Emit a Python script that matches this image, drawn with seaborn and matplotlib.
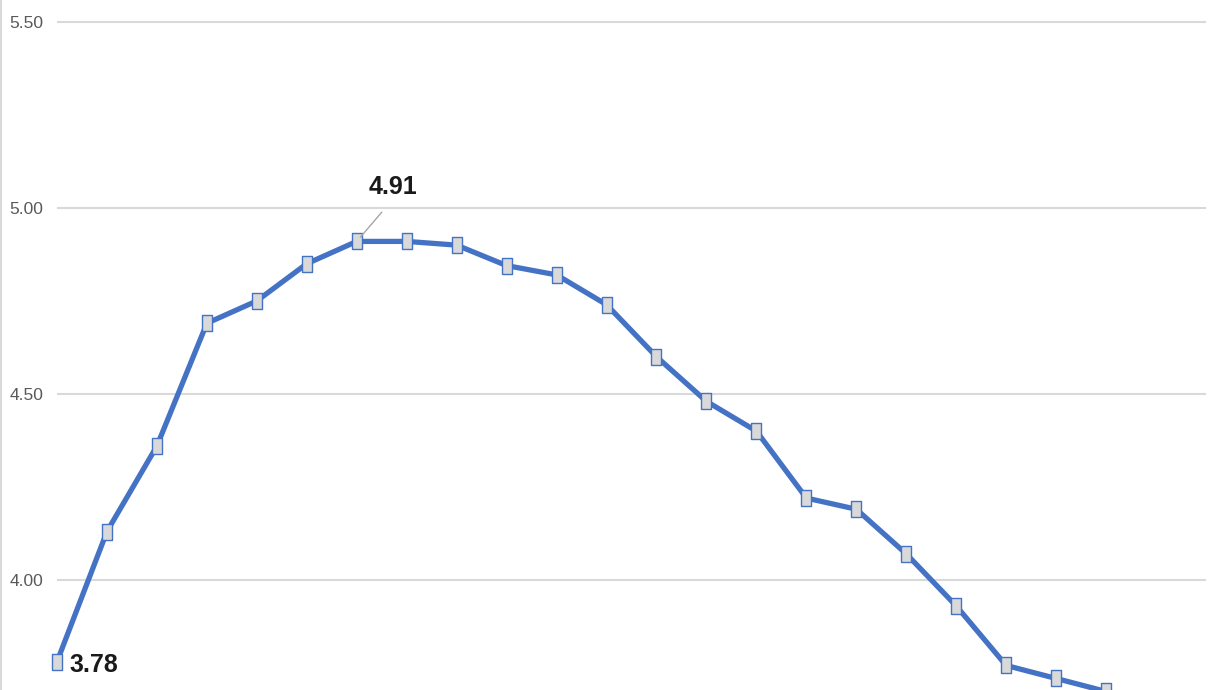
import numpy as np
import matplotlib
matplotlib.use("Agg")
import matplotlib.pyplot as plt
import seaborn as sns
import pandas as pd

# values (one per period)
period = list(range(22))
values = [3.78, 4.13, 4.36, 4.69, 4.75, 4.85, 4.91, 4.91, 4.90, 4.845,
          4.82, 4.74, 4.60, 4.48, 4.40, 4.22, 4.19, 4.07, 3.93, 3.77,
          3.735, 3.70]
y_ticks = [4.00, 4.50, 5.00, 5.50]
y_tick_labels = ["4.00", "4.50", "5.00", "5.50"]

df = pd.DataFrame({"period": period, "value": values})

sns.set_theme(style="white")
plt.rcParams["font.family"] = ["Liberation Sans", "DejaVu Sans"]

fig = plt.figure(figsize=(12.31, 6.90), dpi=100)
ax = fig.add_axes([57 / 1231, 0.0, (1206 - 57) / 1231, 1.0])

# tall rectangular marker like the original
rect = [(-0.33, -0.5), (0.33, -0.5), (0.33, 0.5), (-0.33, 0.5), (-0.33, -0.5)]

sns.lineplot(data=df, x="period", y="value", ax=ax, color="#4472C4",
             linewidth=3.8, marker=rect, markersize=11,
             markerfacecolor="#D9D9D9", markeredgecolor="#4472C4",
             markeredgewidth=1.0, zorder=3)
for ln in ax.lines:
    ln.set_clip_on(False)  # keep the first marker whole

ax.set_xlim(0, 23)
ax.set_ylim(3.704, 5.559)
ax.set_yticks(y_ticks)
ax.set_yticklabels(y_tick_labels, fontsize=12.5, color="#595959")
ax.tick_params(axis="y", length=0, pad=10)
ax.set_xticks([])
ax.set_xlabel("")
ax.set_ylabel("")
ax.grid(axis="y", color="#D9D9D9", linewidth=1.5)
ax.grid(axis="x", visible=False)
for s in ax.spines.values():
    s.set_visible(False)

# data labels
i_max = int(np.argmax(values))
ax.annotate(f"{values[i_max]:.2f}", xy=(period[i_max], values[i_max]),
            xytext=(36, 54), textcoords="offset pixels",
            ha="center", va="center", fontsize=18, fontweight="bold",
            color="#1a1a1a",
            arrowprops=dict(arrowstyle="-", color="#A6A6A6", lw=1,
                            relpos=(0.5, 0.0), shrinkA=9, shrinkB=4))
ax.annotate(f"{values[0]:.2f}", xy=(period[0], values[0]),
            xytext=(37, -3), textcoords="offset pixels",
            ha="center", va="center", fontsize=18, fontweight="bold",
            color="#1a1a1a")

# chart border on the left edge
fig.add_artist(plt.Line2D([0.0012, 0.0012], [0, 1], transform=fig.transFigure,
                          color="#D9D9D9", linewidth=1.5))

fig.savefig("out.png", dpi=100)
